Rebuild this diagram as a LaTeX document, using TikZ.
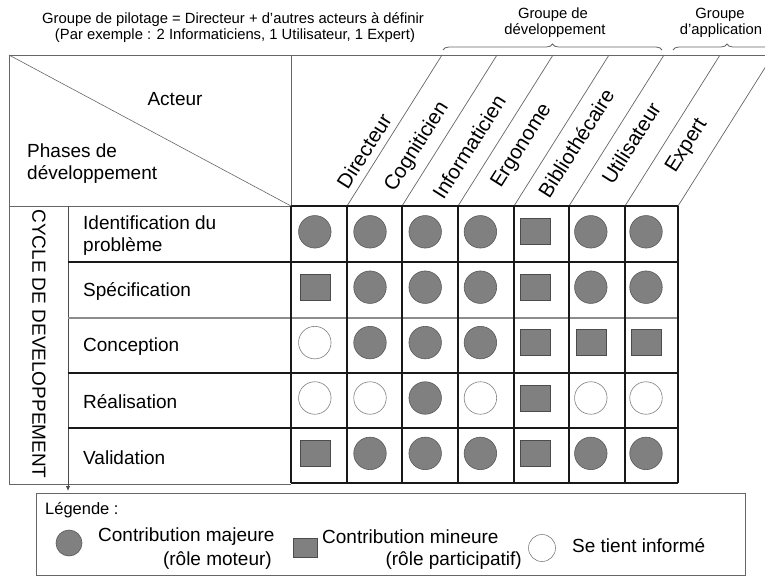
\documentclass[tikz,border=0pt]{standalone}
\usepackage{fontspec}
\setmainfont{Liberation Sans}
\usetikzlibrary{decorations.pathreplacing,arrows.meta}
\begin{document}
\begin{tikzpicture}[x=1pt,y=-1pt,
  big/.style={font=\fontsize{19}{22}\selectfont, inner sep=0pt},
  colbl/.style={font=\fontsize{20.6}{22}\selectfont, inner sep=0pt, rotate=57.7},
  small/.style={font=\fontsize{14.8}{16.5}\selectfont, inner sep=0pt},
  hline/.style={draw=black!60, line width=0.8pt},
  gline/.style={draw=black!90, line width=1.1pt},
  lgline/.style={draw=black!45, line width=1.1pt},
  bracestyle/.style={draw=black!60, line width=0.8pt, decorate, decoration={brace, amplitude=6pt}},
  symA/.style={circle, fill=black!50, draw=black!65, line width=0.6pt, minimum size=32.5pt, inner sep=0pt},
  symB/.style={rectangle, fill=black!50, draw=black!70, line width=0.6pt, minimum width=30pt, minimum height=26pt, inner sep=0pt},
  symC/.style={circle, fill=white, draw=black!50, line width=0.6pt, minimum size=32.5pt, inner sep=0pt},
]
\useasboundingbox (0,0) rectangle (765,577);
\clip (0,0) rectangle (765,577);
\fill[white] (0,0) rectangle (765,577);

% top texts
\node[small, anchor=base] (pilot1) at (233,24) {Groupe de pilotage = Directeur + d'autres acteurs à définir};
\node[small, anchor=base] (pilot2) at (235,40) {(Par exemple : 2 Informaticiens, 1 Utilisateur, 1 Expert)};
\node[small, anchor=base] (gdev1) at (553,19) {Groupe de};
\node[small, anchor=base] (gdev2) at (555,35) {développement};
\node[small, anchor=base] (gapp1) at (720,19) {Groupe};
\node[small, anchor=base] (gapp2) at (721,35) {d'application};
\draw[bracestyle] (443,50) -- (662,50);
\draw[bracestyle] (673,50) -- (781,50);

% header
\draw[hline] (9,55) -- (765,55);
\draw[hline] (9,55) rectangle (291,206);
\draw[hline, line width=0.6pt] (9,55) -- (291,206);
\foreach \b in {347,402,458,514,569,625,678}{
  \draw[hline, line width=0.7pt] (\b,206) -- (\b+95,55);
}
\node[big] (acteur) at (175,99) {Acteur};
\node[big, anchor=west, align=left] (phases) at (27,164) {Phases de\\développement};

\node[colbl] (cDir) at (364,151) {Directeur};
\node[colbl] (cCog) at (417,147) {Cogniticien};
\node[colbl] (cInf) at (469,147) {Informaticien};
\node[colbl] (cErg) at (522,146) {Ergonome};
\node[colbl] (cBib) at (576,143) {Bibliothécaire};
\node[colbl] (cUti) at (631,143) {Utilisateur};
\node[colbl] (cExp) at (687,146) {Expert};

% left block
\draw[hline] (9,206) -- (9,484) -- (291,484);
\draw[black!70, line width=0.8pt, -{Latex[length=5pt,width=4.5pt]}] (68,206) -- (68,491);
\node[font=\fontsize{19}{20}\selectfont, inner sep=0pt, rotate=-90] (cycle) at (39,344) {CYCLE DE DEVELOPPEMENT};

\node[big, anchor=west, align=left] (r1) at (83,236) {Identification du\\problème};
\node[big, anchor=west] (r2) at (83,291) {Spécification};
\node[big, anchor=west] (r3) at (83,347) {Conception};
\node[big, anchor=west] (r4) at (83,402) {Réalisation};
\node[big, anchor=west] (r5) at (83,458) {Validation};

% grid lines
\draw[gline] (68,262) -- (678,262);
\draw[lgline] (68,318) -- (678,318);
\draw[gline] (68,373) -- (678,373);
\draw[gline] (68,428) -- (678,428);
\draw[gline] (291,483) -- (678,483);
\draw[gline] (291,206) -- (678,206);
\foreach \x in {291,347,402,458,514,569,625,678}{
  \draw[gline] (\x,206) -- (\x,483);
}

% symbols
\foreach \rowlist [count=\r from 0] in {{A,A,A,A,B,A,A},{B,A,A,A,B,A,A},{C,A,A,A,B,B,B},{C,C,A,C,B,C,C},{B,A,A,A,B,A,A}}{
  \foreach \t [count=\c from 0] in \rowlist {
    \node[sym\t] (s\r-\c) at ({291+55.2*\c+23.8},{206+55.4*\r+25.8}) {};
  }
}

% legend
\draw[draw=black!60, line width=0.8pt] (36,493) rectangle (745,575);
\node[font=\fontsize{16.5}{18}\selectfont, inner sep=0pt, anchor=west] (leg) at (45,510) {Légende :};
\node[symA, minimum size=26pt] (lgA) at (69,543) {};
\node[big, anchor=west] (lgA1) at (98,537) {Contribution majeure};
\node[big, anchor=east] (lgA2) at (272,561) {(rôle moteur)};
\node[symB, minimum width=24pt, minimum height=19pt] (lgB) at (305,548) {};
\node[big, anchor=west] (lgB1) at (322,537) {Contribution mineure};
\node[big, anchor=east] (lgB2) at (522,561) {(rôle participatif)};
\node[symC, minimum size=27pt] (lgC) at (542,548) {};
\node[big, anchor=west] (lgC1) at (572,546) {Se tient informé};
\end{tikzpicture}
\end{document}
